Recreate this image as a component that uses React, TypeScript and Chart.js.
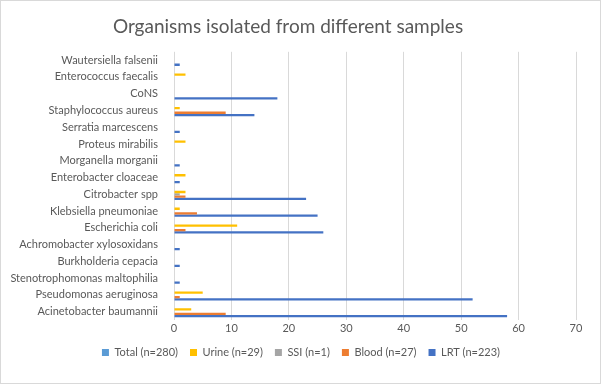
import React, { useEffect, useRef } from "react";
import { Chart, registerables } from "chart.js";

Chart.register(...registerables);

const categories = [
  "Wautersiella falsenii",
  "Enterococcus faecalis",
  "CoNS",
  "Staphylococcus aureus",
  "Serratia marcescens",
  "Proteus mirabilis",
  "Morganella morganii",
  "Enterobacter cloaceae",
  "Citrobacter spp",
  "Klebsiella pneumoniae",
  "Escherichia coli",
  "Achromobacter xylosoxidans",
  "Burkholderia cepacia",
  "Stenotrophomonas maltophilia",
  "Pseudomonas aeruginosa",
  "Acinetobacter baumannii",
];

const totalValues: (number | null)[] = [null, null, null, null, null, null, null, null, null, null, null, null, null, null, null, null];
const urineValues = [0, 2, 0, 1, 0, 2, 0, 2, 2, 1, 11, 0, 0, 0, 5, 3];
const ssiValues = [0, 0, 0, 0, 0, 0, 0, 0, 1, 0, 0, 0, 0, 0, 0, 0];
const bloodValues = [0, 0, 0, 9, 0, 0, 0, 0, 2, 4, 2, 0, 0, 0, 1, 9];
const lrtValues = [1, 0, 18, 14, 1, 0, 1, 1, 23, 25, 26, 1, 1, 1, 52, 58];

const seriesLabels = ["Total (n=280)", "Urine (n=29)", "SSI (n=1)", "Blood (n=27)", "LRT (n=223)"];
const seriesColors = ["#5B9BD5", "#FFC000", "#A5A5A5", "#ED7D31", "#4472C4"];
const xTicks = [0, 10, 20, 30, 40, 50, 60, 70];

const FONT = "Lato, 'Open Sans', sans-serif";
const TEXT = "#595959";

const legendShift = {
  id: "legendShift",
  afterLayout(chart: any) {
    if (chart.legend) {
      chart.legend.left += 13;
      chart.legend.right += 13;
    }
  },
};

export default function App() {
  const ref = useRef<HTMLCanvasElement | null>(null);

  useEffect(() => {
    document.body.style.margin = "0";
    const canvas = ref.current;
    if (!canvas) return;
    const seriesData = [totalValues, urineValues, ssiValues, bloodValues, lrtValues];
    const chart = new Chart(canvas, {
      type: "bar",
      data: {
        labels: categories,
        datasets: seriesLabels.map((label, i) => ({
          label,
          data: seriesData[i] as any,
          backgroundColor: seriesColors[i],
          borderWidth: 0,
          categoryPercentage: 0.68,
          barPercentage: 1,
        })),
      },
      plugins: [legendShift],
      options: {
        indexAxis: "y",
        animation: false,
        responsive: false,
        devicePixelRatio: 1,
        layout: { padding: { left: 0, right: 25, top: 0, bottom: 16 } },
        plugins: {
          title: {
            display: true,
            text: "Organisms isolated from different samples",
            color: TEXT,
            font: { family: FONT, size: 19, weight: "normal" },
            padding: { top: 15, bottom: 14 },
          },
          legend: {
            position: "bottom",
            labels: {
              color: TEXT,
              font: { family: FONT, size: 11 },
              boxWidth: 7,
              boxHeight: 7,
              padding: 12,
            },
          },
          tooltip: { enabled: false },
        },
        scales: {
          x: {
            min: 0,
            max: 70,
            afterBuildTicks: (scale: any) => {
              scale.ticks = xTicks.map((v) => ({ value: v }));
            },
            afterFit: (scale: any) => {
              scale.height = 15;
            },
            ticks: {
              color: TEXT,
              font: { family: FONT, size: 11 },
              padding: 2,
            },
            grid: { color: "#D9D9D9", drawTicks: false },
            border: { display: false },
          },
          y: {
            afterFit: (scale: any) => {
              scale.width = 174;
            },
            ticks: {
              color: TEXT,
              font: { family: FONT, size: 11 },
              padding: 8,
              autoSkip: false,
            },
            grid: { display: false },
            border: { display: false },
          },
        },
      },
    });
    return () => chart.destroy();
  }, []);

  return (
    <div style={{ position: "relative", width: 601, height: 384, boxSizing: "border-box", border: "1px solid #D9D9D9", background: "#fff" }}>
      <canvas ref={ref} width={601} height={384} style={{ position: "absolute", left: -1, top: -1 }} />
    </div>
  );
}
